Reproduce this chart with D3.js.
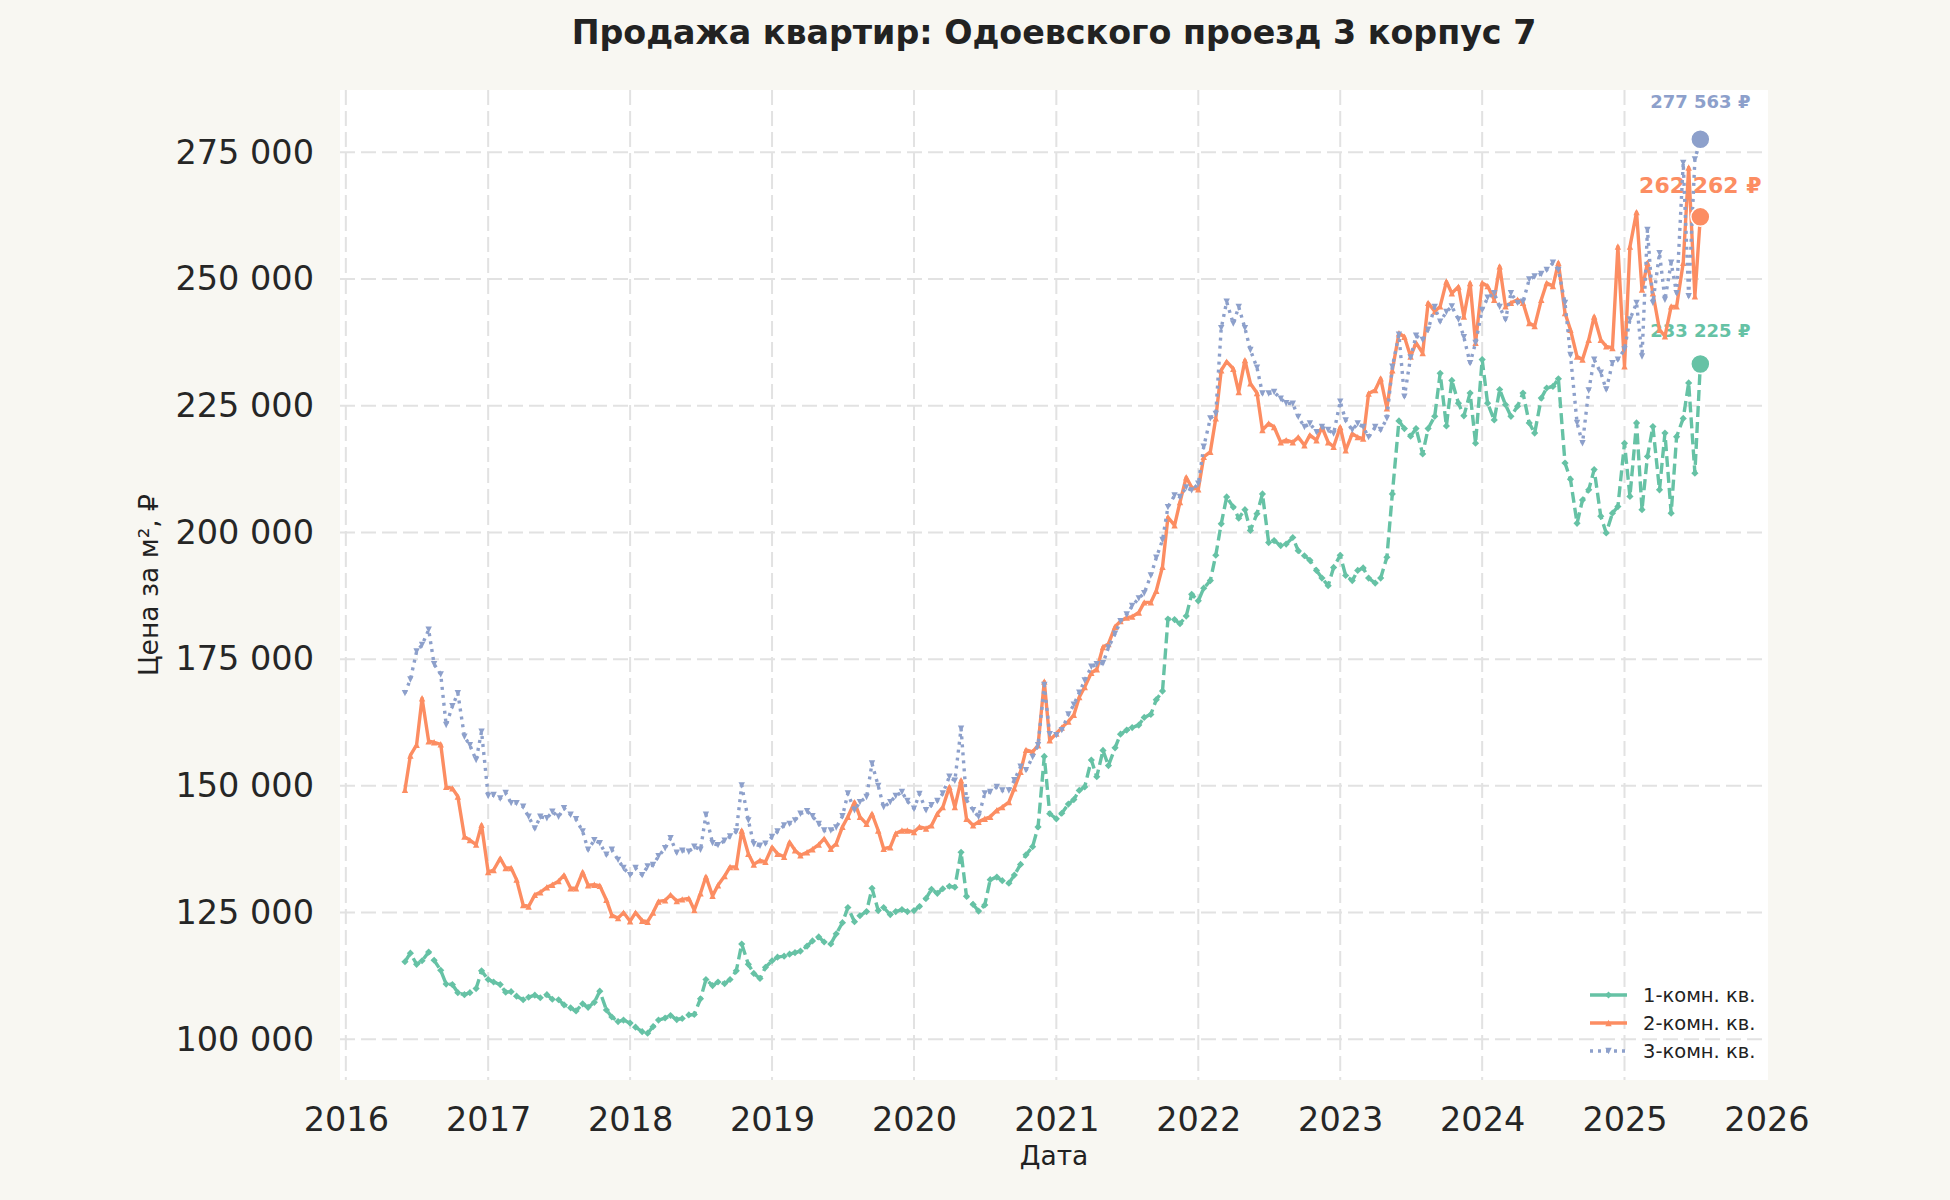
<!DOCTYPE html>
<html>
<head>
<meta charset="utf-8">
<script src="https://cdn.jsdelivr.net/npm/d3@7"></script>
<style>
    html, body { margin: 0; padding: 0; background: #f8f7f2; }
    svg { display: block; font-family: 'DejaVu Sans', sans-serif; }
</style>
</head>
<body>
<div id="chart"></div>
<script>
// Price per m2, thousand rubles. Semi-monthly readings (1st and 15th), Jun 2016 - Jul 2025
const oneRoom = [
    115.3, 117.0, 114.8, 115.5, 117.2, 115.6, 113.6, 110.9, 110.8, 109.2, 108.8, 109.2, 110.0, 113.5,
    111.8, 111.3, 110.8, 109.3, 109.4, 108.5, 107.8, 108.3, 108.7, 108.2, 108.8, 107.9, 107.8, 106.8, 106.2, 105.6, 107.0, 106.3, 107.3, 109.5, 105.8, 104.4, 103.5, 103.8,
    103.2, 102.4, 101.5, 101.2, 102.5, 103.8, 104.2, 104.7, 103.9, 104.1, 104.8, 104.9, 108.0, 111.8, 110.6, 111.3, 111.0, 111.8, 113.5, 118.8, 114.8, 113.0, 112.0, 114.2,
    115.5, 116.2, 116.4, 116.8, 117.1, 117.4, 118.4, 119.4, 120.2, 119.2, 118.8, 120.8, 123.0, 126.0, 123.2, 124.4, 125.2, 129.8, 125.4, 126.0, 124.6, 125.2, 125.6, 125.2,
    125.4, 126.2, 127.8, 129.6, 128.8, 129.7, 130.2, 130.0, 136.9, 128.2, 126.6, 125.3, 126.5, 131.5, 132.0, 131.3, 130.8, 132.4, 134.5, 136.4, 138.0, 141.9, 155.8, 144.5,
    143.5, 144.6, 146.4, 147.3, 149.1, 149.8, 155.1, 151.8, 157.0, 154.0, 157.5, 160.2, 161.0, 161.5, 162.0, 163.5, 164.1, 167.0, 168.7, 182.9, 182.8, 182.0, 183.5, 187.8,
    186.5, 189.0, 190.5, 195.5, 201.7, 207.0, 205.0, 202.8, 204.5, 200.4, 203.7, 207.6, 198.0, 198.4, 197.4, 197.7, 199.0, 196.4, 195.4, 194.5, 192.5, 191.0, 189.5, 193.1,
    195.5, 191.5, 190.5, 192.5, 193.0, 191.0, 190.0, 191.0, 195.1, 207.6, 222.0, 220.5, 219.0, 220.5, 215.5, 220.5, 222.9, 231.4, 221.0, 230.0, 225.5, 223.0, 227.5, 217.6,
    234.1, 225.5, 222.2, 228.2, 225.2, 222.9, 224.9, 227.5, 221.6, 219.6, 226.5, 228.5, 228.8, 230.3, 213.7, 210.5, 201.8, 206.4, 208.4, 212.4, 203.2, 199.9, 203.8, 205.1,
    217.6, 207.1, 221.6, 204.5, 215.0, 220.9, 208.4, 219.6, 203.8, 218.9, 222.5, 229.5, 211.7, 233.225
];
const twoRoom = [
    149.2, 156.0, 158.1, 167.3, 158.8, 158.6, 158.2, 149.8, 149.5, 147.9, 140.0, 139.3, 138.4, 142.3,
    133.0, 133.4, 135.7, 133.8, 133.8, 131.5, 126.5, 126.2, 128.5, 129.0, 130.0, 130.5, 131.2, 132.4, 129.8, 129.8, 133.0, 130.4, 130.5, 130.3, 127.5, 124.5, 123.9, 125.0,
    123.3, 125.0, 123.4, 123.2, 125.0, 127.2, 127.4, 128.5, 127.3, 127.6, 127.8, 125.5, 128.8, 132.1, 128.3, 130.4, 132.2, 134.0, 134.0, 141.2, 136.6, 134.5, 135.3, 135.0,
    137.9, 136.6, 136.0, 138.9, 137.3, 136.3, 136.9, 137.5, 138.4, 139.6, 137.6, 138.6, 141.9, 143.9, 146.8, 143.9, 142.5, 144.5, 141.2, 137.6, 137.9, 140.6, 141.2, 141.2,
    140.9, 141.9, 141.6, 142.2, 144.5, 145.8, 149.8, 145.8, 151.1, 143.5, 142.2, 142.9, 143.5, 143.9, 145.2, 145.8, 146.8, 149.5, 152.8, 157.1, 156.7, 158.0, 170.6, 159.0,
    160.3, 161.5, 162.7, 164.0, 167.5, 169.5, 172.3, 173.0, 177.4, 178.0, 181.4, 182.5, 183.2, 183.4, 184.2, 186.2, 186.2, 188.5, 193.2, 203.0, 201.4, 206.0, 210.9, 208.9,
    208.5, 214.9, 215.9, 222.5, 232.0, 233.7, 232.3, 227.7, 234.0, 229.4, 227.5, 220.2, 221.5, 220.8, 217.8, 218.2, 217.8, 218.8, 217.2, 219.2, 218.2, 220.8, 217.8, 216.9,
    220.8, 216.2, 219.5, 218.8, 218.5, 227.4, 228.1, 230.4, 224.5, 232.0, 239.3, 238.6, 234.7, 237.4, 235.4, 245.3, 243.6, 244.6, 249.5, 247.2, 248.5, 242.6, 249.2, 237.4,
    249.2, 248.6, 245.9, 252.5, 244.6, 245.3, 245.9, 245.3, 241.3, 240.7, 245.9, 249.2, 248.6, 253.2, 243.3, 240.0, 234.7, 234.1, 238.0, 242.6, 238.0, 236.7, 236.4, 256.4,
    232.8, 256.4, 263.2, 247.9, 253.2, 247.2, 240.0, 238.7, 244.6, 244.6, 253.2, 272.0, 246.6, 262.262
];
const threeRoom = [
    168.3, 171.0, 176.5, 177.8, 180.8, 174.0, 172.0, 162.0, 165.7, 168.3, 159.7, 158.0, 155.1, 160.7,
    148.0, 148.2, 147.5, 148.6, 146.6, 146.6, 145.9, 143.9, 141.6, 143.9, 143.6, 144.9, 143.9, 145.6, 144.3, 143.4, 141.0, 137.4, 139.3, 138.7, 136.4, 137.4, 135.4, 133.8,
    132.4, 133.8, 132.4, 134.1, 134.4, 136.1, 137.7, 139.7, 136.8, 137.2, 137.0, 138.0, 137.4, 144.3, 138.7, 138.3, 139.2, 140.0, 141.0, 150.1, 143.2, 138.5, 138.2, 138.6,
    139.9, 141.0, 142.2, 142.5, 143.2, 144.5, 145.0, 144.0, 142.5, 141.2, 141.2, 141.8, 144.0, 148.5, 145.2, 146.8, 147.8, 154.4, 150.0, 145.8, 146.8, 148.0, 148.8, 147.0,
    145.5, 148.4, 145.2, 146.2, 147.0, 148.5, 151.8, 151.0, 161.3, 147.2, 145.2, 143.9, 148.5, 148.8, 149.8, 149.1, 149.1, 151.1, 153.8, 153.1, 155.7, 158.0, 169.9, 160.2,
    160.0, 161.0, 164.1, 166.0, 168.4, 170.8, 173.5, 174.0, 174.2, 177.3, 180.0, 182.5, 183.8, 185.5, 187.0, 188.0, 191.5, 195.0, 198.5, 205.0, 207.3, 207.0, 208.9, 208.3,
    209.6, 216.9, 222.5, 223.4, 240.3, 245.5, 241.2, 244.5, 240.3, 236.0, 232.5, 227.4, 227.4, 227.7, 226.4, 225.5, 225.4, 222.8, 220.8, 221.5, 219.8, 220.8, 220.2, 219.5,
    225.8, 222.1, 220.2, 221.5, 220.8, 218.8, 220.8, 220.2, 222.5, 232.7, 239.0, 226.8, 234.5, 238.8, 238.0, 240.0, 244.5, 241.6, 243.5, 244.6, 242.0, 238.5, 233.4, 237.4,
    243.9, 246.3, 247.2, 244.5, 242.0, 247.2, 245.3, 245.5, 249.9, 250.5, 251.0, 251.8, 253.2, 251.8, 245.3, 235.0, 221.6, 217.6, 228.0, 234.1, 231.5, 228.2, 233.4, 234.1,
    236.1, 242.0, 245.3, 234.7, 259.7, 245.3, 255.1, 245.9, 253.2, 247.2, 272.9, 246.6, 273.6, 277.563
];

const seriesNames = ['1-комн. кв.', '2-комн. кв.', '3-комн. кв.'];
const yTicks = [100000, 125000, 150000, 175000, 200000, 225000, 250000, 275000];
const xTickYears = [2016, 2017, 2018, 2019, 2020, 2021, 2022, 2023, 2024, 2025, 2026];
const gridYears = [2016, 2017, 2018, 2019, 2020, 2021, 2022, 2023, 2024, 2025];

// observation dates: 1st and 15th of every month starting June 2016
const dates = d3.range(oneRoom.length).map(i =>
    new Date(Date.UTC(2016, 5 + Math.floor(i / 2), i % 2 ? 15 : 1)));

const styles = [
    { color: '#66c2a5', dash: '11,5', legendDash: null, marker: 'diamond', labelSize: 18, labelGap: 27 },
    { color: '#fc8d62', dash: null, legendDash: null, marker: 'up', labelSize: 22, labelGap: 24 },
    { color: '#8da0cb', dash: '3,5', legendDash: '3,5', marker: 'down', labelSize: 18, labelGap: 31 }
];

const markerPaths = {
    diamond: 'M0,-3.6L3.6,0L0,3.6L-3.6,0Z',
    up: 'M0,-3.2L3.2,3.2L-3.2,3.2Z',
    down: 'M0,3.2L3.2,-3.2L-3.2,-3.2Z'
};

const width = 1950;
const height = 1200;
const plot = { left: 340, top: 90, right: 1768, bottom: 1080 };

const svg = d3.select('#chart')
    .append('svg')
    .attr('width', width)
    .attr('height', height);

svg.append('rect')
    .attr('width', width)
    .attr('height', height)
    .attr('fill', '#f8f7f2');

svg.append('rect')
    .attr('x', plot.left)
    .attr('y', plot.top)
    .attr('width', plot.right - plot.left)
    .attr('height', plot.bottom - plot.top)
    .attr('fill', '#ffffff');

const x = d3.scaleUtc()
    .domain([new Date(Date.UTC(2015, 11, 17)), new Date(Date.UTC(2026, 0, 5))])
    .range([plot.left, plot.right]);

const y = d3.scaleLinear()
    .domain([91970, 287290])
    .range([plot.bottom, plot.top]);

const yearDate = yr => new Date(Date.UTC(yr, 0, 1));
const fmtNum = v => d3.format(',')(Math.round(v)).replace(/,/g, ' ');

// grid
const grid = svg.append('g')
    .attr('stroke', '#e2e2e2')
    .attr('stroke-width', 2)
    .attr('stroke-dasharray', '15,6');

grid.selectAll('.hgrid')
    .data(yTicks)
    .enter()
    .append('line')
    .attr('x1', plot.left)
    .attr('x2', plot.right)
    .attr('y1', d => y(d))
    .attr('y2', d => y(d));

grid.selectAll('.vgrid')
    .data(gridYears)
    .enter()
    .append('line')
    .attr('x1', d => x(yearDate(d)))
    .attr('x2', d => x(yearDate(d)))
    .attr('y1', plot.top)
    .attr('y2', plot.bottom);

// axes
const yAxis = svg.append('g')
    .attr('transform', `translate(${plot.left},0)`)
    .call(d3.axisLeft(y).tickValues(yTicks).tickSize(0).tickPadding(26).tickFormat(fmtNum));

const xAxis = svg.append('g')
    .attr('transform', `translate(0,${plot.bottom})`)
    .call(d3.axisBottom(x).tickValues(xTickYears.map(yearDate)).tickSize(0).tickPadding(27)
        .tickFormat(d3.utcFormat('%Y')));

[yAxis, xAxis].forEach(ax => {
    ax.select('.domain').remove();
    ax.selectAll('text')
        .attr('fill', '#262626')
        .style('font-size', '33.5px')
        .style('font-family', 'DejaVu Sans, sans-serif');
});

// title and axis labels
svg.append('text')
    .attr('x', (plot.left + plot.right) / 2)
    .attr('y', 44)
    .attr('text-anchor', 'middle')
    .attr('fill', '#222')
    .style('font-size', '33.3px')
    .style('font-weight', 'bold')
    .text('Продажа квартир: Одоевского проезд 3 корпус 7');

svg.append('text')
    .attr('x', (plot.left + plot.right) / 2)
    .attr('y', 1165)
    .attr('text-anchor', 'middle')
    .attr('fill', '#222')
    .style('font-size', '26.5px')
    .text('Дата');

svg.append('text')
    .attr('transform', `translate(158,${(plot.top + plot.bottom) / 2}) rotate(-90)`)
    .attr('text-anchor', 'middle')
    .attr('fill', '#222')
    .style('font-size', '26.5px')
    .text('Цена за м², ₽');

const allSeries = [oneRoom, twoRoom, threeRoom];
const last = dates.length - 1;

// last value labels (under the lines)
allSeries.forEach((vals, k) => {
    const st = styles[k];
    svg.append('text')
        .attr('x', x(dates[last]))
        .attr('y', y(vals[last] * 1000) - st.labelGap)
        .attr('text-anchor', 'middle')
        .attr('fill', st.color)
        .style('font-size', st.labelSize + 'px')
        .style('font-weight', 'bold')
        .text(fmtNum(vals[last] * 1000) + ' ₽');
});

const line = d3.line()
    .x((d, i) => x(dates[i]))
    .y(d => y(d * 1000));

allSeries.forEach((vals, k) => {
    const st = styles[k];
    const g = svg.append('g');

    g.append('path')
        .datum(vals)
        .attr('d', line)
        .attr('fill', 'none')
        .attr('stroke', st.color)
        .attr('stroke-width', 3.4)
        .attr('stroke-linejoin', 'round')
        .attr('stroke-dasharray', st.dash);

    g.selectAll('.pt')
        .data(vals)
        .enter()
        .append('path')
        .attr('d', markerPaths[st.marker])
        .attr('transform', (d, i) => `translate(${x(dates[i])},${y(d * 1000)})`)
        .attr('fill', st.color);
});

// end markers
allSeries.forEach((vals, k) => {
    svg.append('circle')
        .attr('cx', x(dates[last]))
        .attr('cy', y(vals[last] * 1000))
        .attr('r', 9.5)
        .attr('fill', styles[k].color)
        .attr('stroke', '#fff')
        .attr('stroke-width', 1.5);
});

// legend
const legend = svg.append('g');
seriesNames.forEach((name, k) => {
    const st = styles[k];
    const ly = 995 + k * 28;
    legend.append('line')
        .attr('x1', 1590)
        .attr('x2', 1627)
        .attr('y1', ly)
        .attr('y2', ly)
        .attr('stroke', st.color)
        .attr('stroke-width', 3.4)
        .attr('stroke-dasharray', st.legendDash);
    legend.append('path')
        .attr('d', markerPaths[st.marker])
        .attr('transform', `translate(1608.5,${ly})`)
        .attr('fill', st.color);
    legend.append('text')
        .attr('x', 1643)
        .attr('y', ly)
        .attr('dy', '0.35em')
        .attr('fill', '#222')
        .style('font-size', '19.5px')
        .text(name);
});
</script>
</body>
</html>
